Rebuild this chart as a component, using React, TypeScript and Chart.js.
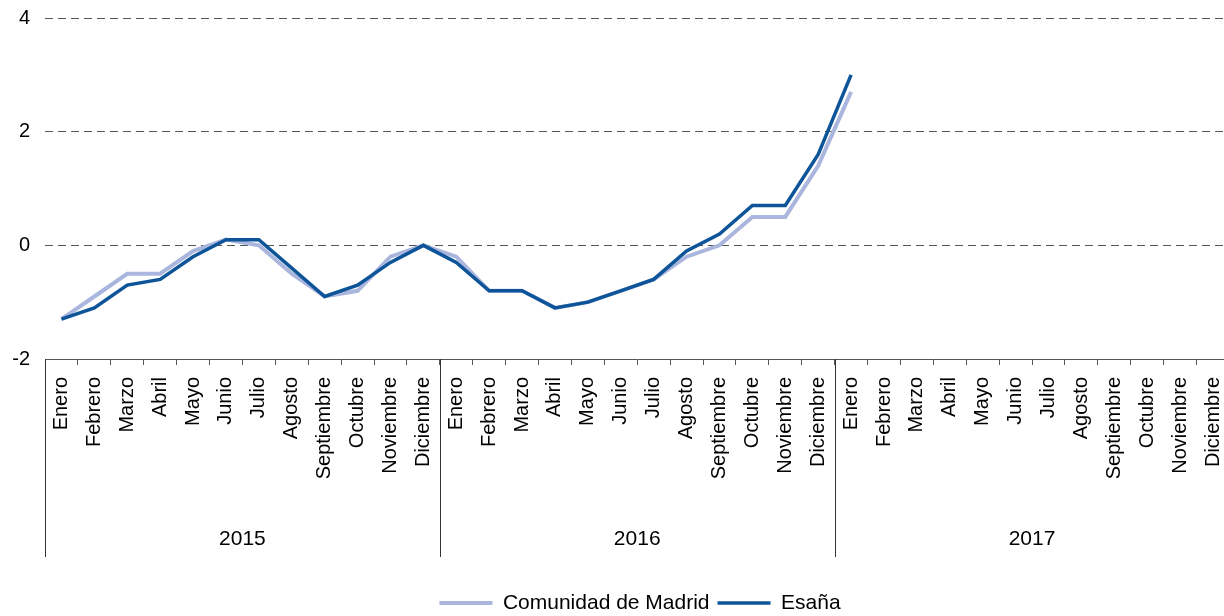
import React, { useEffect, useRef } from "react";
import { Chart, registerables } from "chart.js";

Chart.register(...registerables);

const MONTHS = [
  "Enero", "Febrero", "Marzo", "Abril", "Mayo", "Junio",
  "Julio", "Agosto", "Septiembre", "Octubre", "Noviembre", "Diciembre",
];
const YEARS = ["2015", "2016", "2017"];
const CATEGORIES = YEARS.flatMap(() => MONTHS);

const MADRID = [
  -1.3, -0.9, -0.5, -0.5, -0.1, 0.1, 0.0, -0.5, -0.9, -0.8, -0.2, 0.0,
  -0.2, -0.8, -0.8, -1.1, -1.0, -0.8, -0.6, -0.2, 0.0, 0.5, 0.5, 1.4,
  2.7,
];
const ESPANA = [
  -1.3, -1.1, -0.7, -0.6, -0.2, 0.1, 0.1, -0.4, -0.9, -0.7, -0.3, 0.0,
  -0.3, -0.8, -0.8, -1.1, -1.0, -0.8, -0.6, -0.1, 0.2, 0.7, 0.7, 1.6,
  3.0,
];
const Y_MIN = -2;
const Y_MAX = 4;
const Y_STEP = 2;

const SERIES_NAMES = ["Comunidad de Madrid", "Esaña"];
const FONT = "'Liberation Sans', Arial, sans-serif";

const yearGroupsPlugin = {
  id: "yearGroups",
  afterLayout(chart: any) {
    const lg = chart.legend;
    if (lg) {
      const dx = 640 - (lg.left + lg.right) / 2;
      lg.left += dx;
      lg.right += dx;
      const targetTop = 603 - 10.5 - 8;
      const dy = targetTop - lg.top;
      lg.top += dy;
      lg.bottom += dy;
    }
  },
  afterDraw(chart: any) {
    const x = chart.scales.x;
    const ctx = chart.ctx;
    const n = MONTHS.length;
    const step = (x.right - x.left) / CATEGORIES.length;
    ctx.save();
    ctx.strokeStyle = "#333";
    ctx.lineWidth = 1;
    for (let g = 0; g <= YEARS.length; g++) {
      const px = Math.round(x.left + g * n * step) + 0.5;
      ctx.beginPath();
      ctx.moveTo(px, x.top);
      ctx.lineTo(px, x.top + 198);
      ctx.stroke();
    }
    ctx.fillStyle = "#000";
    ctx.font = `21px ${FONT}`;
    ctx.textAlign = "center";
    ctx.textBaseline = "middle";
    YEARS.forEach((yr, g) => {
      ctx.fillText(yr, x.left + (g + 0.5) * n * step, x.top + 180);
    });
    ctx.restore();
  },
};

export default function App() {
  const ref = useRef<HTMLCanvasElement | null>(null);

  useEffect(() => {
    document.body.style.margin = "0";
    document.body.style.overflow = "hidden";
    const canvas = ref.current;
    if (!canvas) return;
    const chart = new Chart(canvas, {
      type: "line",
      data: {
        labels: CATEGORIES,
        datasets: [
          {
            label: SERIES_NAMES[0],
            data: MADRID,
            borderColor: "#AAB6DD",
            backgroundColor: "#AAB6DD",
            borderWidth: 4,
            pointRadius: 0,
            tension: 0,
            order: 2,
          },
          {
            label: SERIES_NAMES[1],
            data: ESPANA,
            borderColor: "#0D5499",
            backgroundColor: "#0D5499",
            borderWidth: 3.5,
            pointRadius: 0,
            tension: 0,
            order: 1,
          },
        ],
      },
      options: {
        animation: false,
        responsive: false,
        devicePixelRatio: 1,
        layout: { padding: { top: 18, left: 0, right: 0, bottom: 18 } },
        plugins: {
          tooltip: { enabled: false },
          legend: {
            position: "bottom",
            labels: {
              usePointStyle: true,
              pointStyle: "line",
              pointStyleWidth: 53,
              boxHeight: 21,
              padding: 8,
              color: "#000",
              font: { family: FONT, size: 21 },
              sort: (a: any, b: any) => a.datasetIndex - b.datasetIndex,
            },
          },
        },
        scales: {
          x: {
            type: "category",
            offset: true,
            grid: {
              display: true,
              offset: true,
              drawOnChartArea: false,
              drawTicks: true,
              tickLength: 6,
              color: "#555",
            },
            border: { display: true, color: "#555", width: 1 },
            ticks: {
              autoSkip: false,
              minRotation: 90,
              maxRotation: 90,
              padding: 12,
              color: "#000",
              font: { family: FONT, size: 20 },
            },
            afterFit: (scale: any) => {
              scale.height = 200;
            },
          },
          y: {
            min: Y_MIN,
            max: Y_MAX,
            ticks: {
              stepSize: Y_STEP,
              padding: 15,
              color: "#000",
              font: { family: FONT, size: 20 },
            },
            grid: {
              drawTicks: false,
              color: (c: any) =>
                c.tick && c.tick.value === Y_MIN ? "rgba(0,0,0,0)" : "#555",
              lineWidth: 1,
            },
            border: { display: false, dash: [8, 5] },
            afterFit: (scale: any) => {
              scale.width = 45;
              scale.paddingTop = 0;
              scale.paddingBottom = 0;
            },
          },
        },
      },
      plugins: [yearGroupsPlugin],
    });
    return () => chart.destroy();
  }, []);

  return (
    <div style={{ width: 1224, height: 616, overflow: "hidden", background: "#fff" }}>
      <canvas ref={ref} width={1249} height={616} style={{ width: 1249, height: 616, display: "block" }} />
    </div>
  );
}
